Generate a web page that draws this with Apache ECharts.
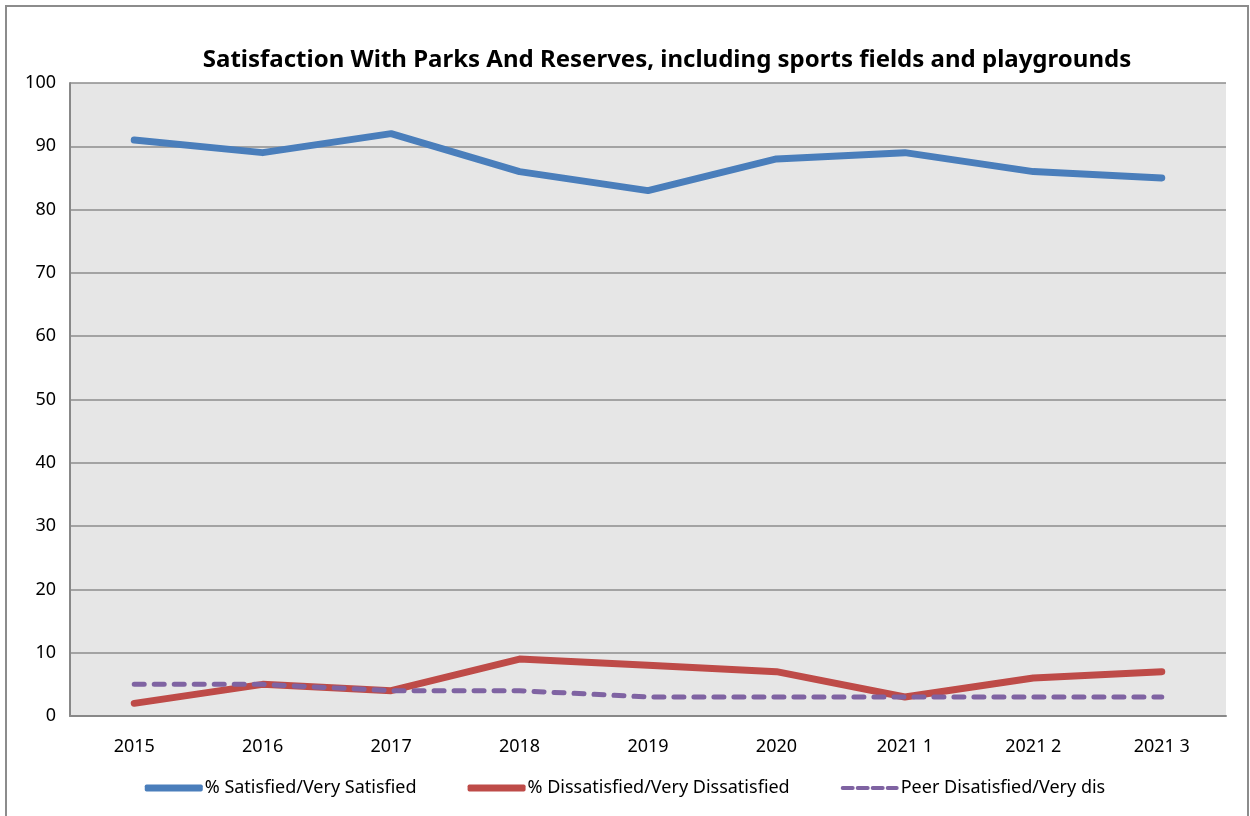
<!DOCTYPE html>
<html><head><meta charset="utf-8">
<script src="https://cdn.jsdelivr.net/npm/echarts@6/dist/echarts.min.js"></script>
<style>
html,body{margin:0;padding:0;background:#fff;}
#frame{position:absolute;left:5px;top:5px;width:1244px;height:830px;border:2px solid #8c8c8c;box-sizing:border-box;}
#c{position:absolute;left:0;top:0;width:1250px;height:816px;}
</style></head>
<body>
<div id="frame"></div>
<div id="c"></div>
<script>
const categories = ['2015','2016','2017','2018','2019','2020','2021 1','2021 2','2021 3'];
const satisfied = [91, 89, 92, 86, 83, 88, 89, 86, 85];
const dissatisfied = [2, 5, 4, 9, 8, 7, 3, 6, 7];
const peer = [5, 5, 4, 4, 3, 3, 3, 3, 3];
const yTicks = [0,10,20,30,40,50,60,70,80,90,100];
const seriesNames = ['% Satisfied/Very Satisfied','% Dissatisfied/Very Dissatisfied','Peer Disatisfied/Very dis'];

const font = 'Noto Sans';
const dashIcon = 'path://M2,0h10a2,2 0 0 1 0,4h-10a2,2 0 0 1 0,-4z M17,0h10a2,2 0 0 1 0,4h-10a2,2 0 0 1 0,-4z M32,0h10a2,2 0 0 1 0,4h-10a2,2 0 0 1 0,-4z M47,0h9a2,2 0 0 1 0,4h-9a2,2 0 0 1 0,-4z';
const chart = echarts.init(document.getElementById('c'), null, {renderer:'canvas'});
chart.setOption({
  animation:false,
  title:{
    text:'Satisfaction With Parks And Reserves, including sports fields and playgrounds',
    left:662, top:43, textAlign:'center',
    textStyle:{fontFamily:font, fontWeight:'bold', fontSize:24, color:'#000'}
  },
  grid:{left:70, right:24, top:83, bottom:100, show:true, backgroundColor:'#e6e6e6', borderWidth:0},
  legend:{
    bottom:14, left:'center',
    itemWidth:58, itemHeight:7, itemGap:51,
    textStyle:{fontFamily:font, fontSize:18, color:'#000', padding:[0,0,0,-3]},
    data:[
      {name:seriesNames[0], icon:'roundRect'},
      {name:seriesNames[1], icon:'roundRect'},
      {name:seriesNames[2], icon:dashIcon, itemStyle:{color:'#7f63a2'}}
    ]
  },
  xAxis:{
    type:'category', data:categories, boundaryGap:true,
    axisLine:{lineStyle:{color:'#888', width:2}},
    axisTick:{show:false},
    axisLabel:{fontFamily:font, fontSize:18, color:'#000', margin:22}
  },
  yAxis:{
    type:'value', min:0, max:100, interval:10,
    axisLine:{show:true, lineStyle:{color:'#888', width:2}},
    axisTick:{show:false},
    splitLine:{lineStyle:{color:'#8c8c8c', width:1.5}},
    axisLabel:{fontFamily:font, fontSize:18, color:'#000', margin:14,
      formatter:function(v){return yTicks.indexOf(v)>=0? String(v):'';}}
  },
  series:[
    {name:seriesNames[0], type:'line', data:satisfied, symbol:'none',
     lineStyle:{color:'#4a7ebb', width:7, cap:'round', join:'round'}, itemStyle:{color:'#4a7ebb'}},
    {name:seriesNames[1], type:'line', data:dissatisfied, symbol:'none',
     lineStyle:{color:'#be4b48', width:7, cap:'round', join:'round'}, itemStyle:{color:'#be4b48'}},
    {name:seriesNames[2], type:'line', data:peer, symbol:'none',
     lineStyle:{color:'#7f63a2', width:5, type:[10,10], cap:'round', join:'round'}, itemStyle:{color:'#7f63a2'}}
  ]
});
</script>
</body></html>
